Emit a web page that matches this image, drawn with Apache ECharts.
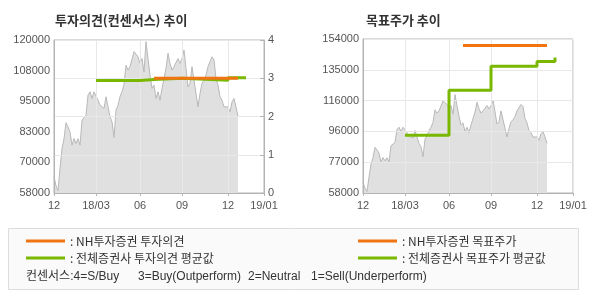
<!DOCTYPE html>
<html>
<head>
<meta charset="utf-8">
<title>투자의견 / 목표주가 추이</title>
<style>html,body{margin:0;padding:0;background:#fff}#main{width:590px;height:300px}</style>
</head>
<body>
<div id="main"></div>
<script src="https://cdn.jsdelivr.net/npm/echarts@6/dist/echarts.min.js"></script>
<script>
// x축은 2px 간격 슬롯 0~105, 라벨은 아래 위치에만 표시
var slotCount = 106;
var xLabelIdx = [0, 21, 43, 64, 87, 105];
var xLabels = ['12', '18/03', '06', '09', '12', '19/01'];

// 주가 (두 차트 공통)
var price = [
  64500, 61000, 59000, 67900, 76000, 80000, 86500, 84800, 82800, 77400,
  80100, 78000, 80000, 77400, 87500, 88200, 89500, 97700, 99000, 96300,
  99000, 98400, 95600, 93600, 93000, 92300, 97000, 93000, 88900, 86900,
  80500, 91600, 93600, 97000, 99000, 102000, 109800, 107800, 109200, 108500,
  115300, 115900, 113200, 110500, 112500, 107100, 119300, 112500, 105800, 100400,
  101700, 96300, 99000, 95600, 100400, 104400, 108500, 114600, 110500, 107800,
  109200, 109800, 112500, 110500, 112500, 115900, 108500, 101000, 102500, 109200,
  109200, 98300, 92900, 98300, 102400, 103700, 105800, 109200, 108500, 113200,
  111900, 104400, 101700, 97000, 95600, 92900, 92200, 92900, 90900, 94900,
  96300, 92900, 89000
];

// 투자의견 [슬롯, 값]
var opinionAvg = [[21, 2.94], [43, 2.97], [50, 3.0], [64, 2.95], [87, 3.01], [96, 3.01]];
var opinionNH = [[50, 3], [92, 3]];

// 목표주가 [슬롯, 값]
var targetAvg = [[21, 94000], [43, 122000], [64, 137000], [87, 140000], [96, 142500]];
var targetNH = [[50, 150000], [92, 150000]];

// 축 라벨
var priceLabelsL = ['58000', '70000', '83000', '95000', '108000', '120000'];
var priceLabelsR = ['58000', '77000', '96000', '116000', '135000', '154000'];
var opinionLabels = ['0', '1', '2', '3', '4'];

// 컨센서스 설명
var noteTexts = ['컨센서스:4=S/Buy', '3=Buy(Outperform)', '2=Neutral', '1=Sell(Underperform)'];
var noteLeft = [26, 138, 248, 311];

var cats = [];
for (var i = 0; i < slotCount; i++) cats.push(String(i));

var ORANGE = '#f07412', GREEN = '#7ab800';
var gridColor = '#e8e8e8', frameColor = '#b4b4b4', labelColor = '#555';
var numFont = 'Liberation Sans';

function showSlot(idx) { return xLabelIdx.indexOf(idx) >= 0; }

function makeX(gridIndex) {
  return {
    type: 'category', gridIndex: gridIndex, data: cats, boundaryGap: false, z: 2,
    axisLine: { lineStyle: { color: frameColor } },
    axisTick: { interval: showSlot, length: 3, lineStyle: { color: frameColor } },
    axisLabel: {
      interval: showSlot, margin: 7, color: labelColor, fontSize: 11, fontFamily: numFont,
      formatter: function (v) { var k = xLabelIdx.indexOf(Number(v)); return k >= 0 ? xLabels[k] : ''; }
    },
    splitLine: { show: true, interval: showSlot, lineStyle: { color: gridColor } }
  };
}

var myChart = echarts.init(document.getElementById('main'));

var graphics = [
  { type: 'rect', z: -10, shape: { x: 8.5, y: 228.5, width: 570, height: 61 },
    style: { fill: '#fafafa', stroke: '#dcdcdc', lineWidth: 1 } }
];
for (var j = 0; j < noteTexts.length; j++) {
  graphics.push({ type: 'text', left: noteLeft[j], top: 271,
    style: { text: noteTexts[j], fontSize: 12, fill: '#333', fontFamily: 'Liberation Sans, Noto Sans CJK KR' } });
}

var option = {
  animation: false,
  textStyle: { fontFamily: 'Noto Sans CJK KR' },
  title: [
    { text: '투자의견(컨센서스) 추이', left: 55, top: 14, padding: 0,
      textStyle: { fontSize: 13, fontWeight: 'bold', color: '#333' } },
    { text: '목표주가 추이', left: 366, top: 14, padding: 0,
      textStyle: { fontSize: 13, fontWeight: 'bold', color: '#333' } }
  ],
  grid: [
    { left: 54, top: 40, width: 210, height: 153, show: true, borderColor: frameColor, borderWidth: 1 },
    { left: 363, top: 39, width: 210, height: 154, show: true, borderColor: frameColor, borderWidth: 1 }
  ],
  xAxis: [makeX(0), makeX(1)],
  yAxis: [
    { type: 'value', gridIndex: 0, min: 58000, max: 120000, interval: 12400, z: 2,
      axisLine: { show: true, lineStyle: { color: frameColor } }, axisTick: { show: false },
      splitLine: { show: false },
      axisLabel: { margin: 4, color: labelColor, fontSize: 11, fontFamily: numFont,
        formatter: function (v, idx) { return priceLabelsL[idx]; } } },
    { type: 'value', gridIndex: 0, position: 'right', min: 0, max: 4, interval: 1, z: 2,
      axisLine: { show: true, lineStyle: { color: frameColor } },
      axisTick: { show: true, inside: true, length: 4, lineStyle: { color: frameColor } },
      splitLine: { show: true, lineStyle: { color: gridColor } },
      axisLabel: { margin: 4, color: labelColor, fontSize: 11, fontFamily: numFont,
        formatter: function (v, idx) { return opinionLabels[idx]; } } },
    { type: 'value', gridIndex: 1, min: 58000, max: 154000, interval: 19200, z: 2,
      axisLine: { show: true, lineStyle: { color: frameColor } }, axisTick: { show: false },
      splitLine: { show: true, lineStyle: { color: gridColor } },
      axisLabel: { margin: 4, color: labelColor, fontSize: 11, fontFamily: numFont,
        formatter: function (v, idx) { return priceLabelsR[idx]; } } }
  ],
  legend: [
    { data: ['NH투자증권 투자의견', '전체증권사 투자의견 평균값'], orient: 'vertical',
      left: 26, top: 234, padding: 0, itemGap: 3, icon: 'rect', itemWidth: 39, itemHeight: 3,
      formatter: ': {name}', selectedMode: false,
      textStyle: { fontSize: 12, color: '#333', lineHeight: 14 } },
    { data: ['NH투자증권 목표주가', '전체증권사 목표주가 평균값'], orient: 'vertical',
      left: 358, top: 234, padding: 0, itemGap: 3, icon: 'rect', itemWidth: 39, itemHeight: 3,
      formatter: ': {name}', selectedMode: false,
      textStyle: { fontSize: 12, color: '#333', lineHeight: 14 } }
  ],
  graphic: graphics,
  series: [
    { name: '주가', type: 'line', xAxisIndex: 0, yAxisIndex: 0, data: price, symbol: 'none', z: 1,
      lineStyle: { color: '#b8b8b8', width: 1 }, areaStyle: { color: '#e0e0e0', opacity: 1 } },
    { name: '전체증권사 투자의견 평균값', type: 'line', xAxisIndex: 0, yAxisIndex: 1, data: opinionAvg,
      step: 'end', symbol: 'none', z: 4, color: GREEN, lineStyle: { color: GREEN, width: 3 } },
    { name: 'NH투자증권 투자의견', type: 'line', xAxisIndex: 0, yAxisIndex: 1, data: opinionNH,
      symbol: 'none', z: 5, color: ORANGE, lineStyle: { color: ORANGE, width: 3 } },
    { name: '주가R', type: 'line', xAxisIndex: 1, yAxisIndex: 2, data: price, symbol: 'none', z: 1,
      lineStyle: { color: '#b8b8b8', width: 1 }, areaStyle: { color: '#e0e0e0', opacity: 1 } },
    { name: '전체증권사 목표주가 평균값', type: 'line', xAxisIndex: 1, yAxisIndex: 2, data: targetAvg,
      step: 'end', symbol: 'none', z: 4, color: GREEN, lineStyle: { color: GREEN, width: 3 } },
    { name: 'NH투자증권 목표주가', type: 'line', xAxisIndex: 1, yAxisIndex: 2, data: targetNH,
      symbol: 'none', z: 5, color: ORANGE, lineStyle: { color: ORANGE, width: 3 } }
  ]
};

myChart.setOption(option);
</script>
</body>
</html>
